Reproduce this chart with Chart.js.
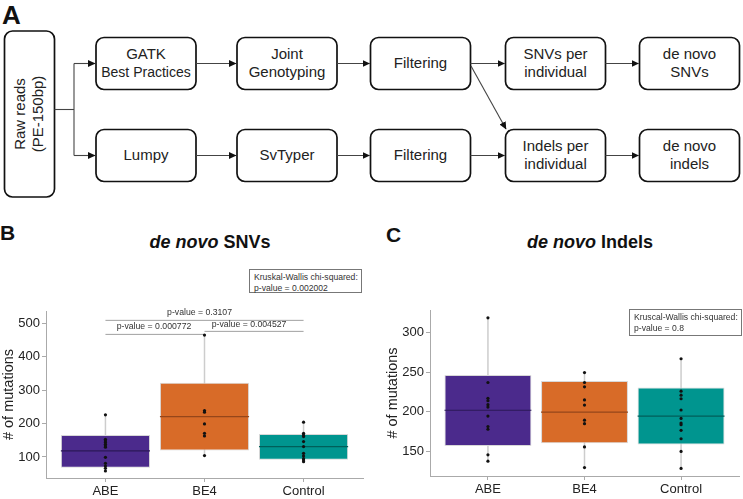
<!DOCTYPE html>
<html>
<head>
<meta charset="utf-8">
<script src="https://cdn.jsdelivr.net/npm/chart.js@4.4.1/dist/chart.umd.min.js"></script>
<style>
  body { margin: 0; background: #fff; }
  #fig { position: relative; width: 743px; height: 499px; overflow: hidden; font-family: "Liberation Sans", Arial, sans-serif; color: #222; }
  .abs { position: absolute; }
  .panel { font-weight: bold; font-size: 21px; line-height: 1; color: #111; }
  .title { font-weight: bold; font-size: 18px; line-height: 1; white-space: nowrap; transform: translateX(-50%); color: #111; }
  .kw { border: 1px solid #777; font-size: 8.6px; line-height: 10.5px; padding: 2px 4px; box-sizing: border-box; color: #333; white-space: nowrap; }
  canvas { position: absolute; }
</style>
</head>
<body>
<div id="fig">
  <svg class="abs" style="left:0;top:0" width="743" height="205" font-family="Liberation Sans, Arial, sans-serif">
    <defs>
      <marker id="ah" markerWidth="8" markerHeight="8" refX="7" refY="4" orient="auto" markerUnits="userSpaceOnUse">
        <path d="M0,0.5 L7.5,4 L0,7.5 z" fill="#111"/>
      </marker>
    </defs>
    <text x="2" y="24" font-size="26" font-weight="bold" fill="#111">A</text>
    <g fill="none" stroke="#111" stroke-width="1.7">
      <rect x="4.5" y="31" width="50" height="166" rx="8"/>
      <rect x="96" y="37.5" width="100" height="52" rx="8"/>
      <rect x="237" y="37.5" width="100" height="52" rx="8"/>
      <rect x="370.5" y="37.5" width="100" height="52" rx="8"/>
      <rect x="505.5" y="37.5" width="100" height="52" rx="8"/>
      <rect x="639.5" y="37.5" width="100" height="52" rx="8"/>
      <rect x="96" y="129.5" width="100" height="52" rx="8"/>
      <rect x="237" y="129.5" width="100" height="52" rx="8"/>
      <rect x="370.5" y="129.5" width="100" height="52" rx="8"/>
      <rect x="505.5" y="129.5" width="100" height="52" rx="8"/>
      <rect x="639.5" y="129.5" width="100" height="52" rx="8"/>
    </g>
    <g stroke="#444" stroke-width="1.1" fill="none">
      <line x1="54.5" y1="109.5" x2="74" y2="109.5"/>
      <line x1="74" y1="63.5" x2="74" y2="155.5"/>
      <line x1="74" y1="63.5" x2="95" y2="63.5" marker-end="url(#ah)"/>
      <line x1="74" y1="155.5" x2="95" y2="155.5" marker-end="url(#ah)"/>
      <line x1="196" y1="63.5" x2="236" y2="63.5" marker-end="url(#ah)"/>
      <line x1="337" y1="63.5" x2="369.5" y2="63.5" marker-end="url(#ah)"/>
      <line x1="470.5" y1="63.5" x2="504.5" y2="63.5" marker-end="url(#ah)"/>
      <line x1="605.5" y1="63.5" x2="638.5" y2="63.5" marker-end="url(#ah)"/>
      <line x1="196" y1="155.5" x2="236" y2="155.5" marker-end="url(#ah)"/>
      <line x1="337" y1="155.5" x2="369.5" y2="155.5" marker-end="url(#ah)"/>
      <line x1="470.5" y1="155.5" x2="504.5" y2="155.5" marker-end="url(#ah)"/>
      <line x1="605.5" y1="155.5" x2="638.5" y2="155.5" marker-end="url(#ah)"/>
      <line x1="471" y1="66" x2="506" y2="129" marker-end="url(#ah)"/>
    </g>
    <g font-size="15" fill="#222" text-anchor="middle" dominant-baseline="middle">
      <text transform="translate(21,114) rotate(-90)">Raw reads</text>
      <text transform="translate(39.5,114) rotate(-90)">(PE-150bp)</text>
      <text x="146" y="55">GATK</text>
      <text x="146" y="73.5" font-size="14">Best Practices</text>
      <text x="287" y="55">Joint</text>
      <text x="287" y="73.5">Genotyping</text>
      <text x="420.5" y="64">Filtering</text>
      <text x="555.5" y="55">SNVs per</text>
      <text x="555.5" y="73.5">individual</text>
      <text x="689.5" y="55">de novo</text>
      <text x="689.5" y="73.5">SNVs</text>
      <text x="146" y="156">Lumpy</text>
      <text x="287" y="156">SvTyper</text>
      <text x="420.5" y="156">Filtering</text>
      <text x="555.5" y="147">Indels per</text>
      <text x="555.5" y="165">individual</text>
      <text x="689.5" y="147">de novo</text>
      <text x="689.5" y="165">indels</text>
    </g>
  </svg>

  <div class="abs panel" style="left:0;top:222px">B</div>
  <div class="abs title" style="left:210px;top:233px"><i>de novo</i> SNVs</div>
  <div class="abs kw" style="left:249px;top:269px;width:113px;height:24px">Kruskal-Wallis chi-squared:<br>p-value = 0.002002</div>
  <canvas id="snv" width="380" height="209" style="left:0;top:290px"></canvas>

  <div class="abs panel" style="left:386px;top:224px">C</div>
  <div class="abs title" style="left:590px;top:233px"><i>de novo</i> Indels</div>
  <canvas id="indel" width="373" height="209" style="left:370px;top:290px"></canvas>
  <div class="abs kw" style="left:629px;top:309px;width:113px;height:27px">Kruscal-Wallis chi-squared:<br>p-value = 0.8</div>
</div>

<script>
// 그룹
const groups = ['ABE', 'BE4', 'Control'];

// de novo SNVs 박스 통계
const snvQ1 = [68, 119, 92];
const snvMedian = [118, 221, 131];
const snvQ3 = [166, 322, 169];
const snvLow = [57, 104, 86];
const snvHigh = [226, 465, 204];
const snvAbe = [226, 153, 148, 143, 138, 133, 129, 99, 81, 73, 66, 58];
const snvBe4 = [465, 239, 234, 199, 171, 163, 104];
const snvControl = [204, 171, 166, 161, 146, 131, 111, 103, 95, 91, 86];
const snvTicks = [100, 200, 300, 400, 500];

// 쌍별 비교 (구간 시작, 끝, 높이, 라벨)
const pairFrom = [1, 1, 2];
const pairTo = [3, 2, 3];
const pairY = [509, 467, 476];
const pairLabelX = [1.95, 1.49, 2.45];
const pairLabelY = [531, 491, 496];
const pairLabels = ['p-value = 0.3107', 'p-value = 0.000772', 'p-value = 0.004527'];

// de novo Indels 박스 통계
const indelQ1 = [157, 160.4, 158.9];
const indelMedian = [202, 199.6, 194.6];
const indelQ3 = [246.6, 239, 230.6];
const indelLow = [137.7, 129.6, 128.5];
const indelHigh = [318.6, 249.5, 267];
const indelAbe = [318.6, 237, 217, 214, 209, 206, 194.6, 181.5, 178, 145.7, 137.7];
const indelBe4 = [249.5, 237, 231.5, 215, 208.5, 189.5, 185, 155.7, 129.6];
const indelControl = [267, 226, 221, 216.5, 202.3, 191.7, 185.9, 183.8, 176.6, 166, 150, 128.5];
const indelTicks = [150, 200, 250, 300];

const fills = ['#4b2a8c', '#d86b28', '#00958f'];
const medianColors = ['#2b1857', '#95461a', '#005f5a'];
const font = 'Liberation Sans, Arial, sans-serif';

function makeBoxChart(id, s) {
    const datasets = [];

    // 수염
    groups.forEach((g, i) => {
        datasets.push({
            type: 'line',
            data: [{ x: i + 1, y: s.low[i] }, { x: i + 1, y: s.high[i] }],
            borderColor: '#cdcdcd', borderWidth: 1.5, pointRadius: 0, order: 6
        });
    });

    // 박스
    datasets.push({
        type: 'bar',
        data: groups.map((g, i) => ({ x: i + 1, y: [s.q1[i], s.q3[i]] })),
        backgroundColor: fills,
        borderColor: '#d8d8d8', borderWidth: 1, borderSkipped: false,
        barPercentage: 0.9, categoryPercentage: 1, order: 5
    });

    // 중앙값
    groups.forEach((g, i) => {
        datasets.push({
            type: 'line',
            data: [{ x: i + 0.55, y: s.median[i] }, { x: i + 1.45, y: s.median[i] }],
            borderColor: medianColors[i], borderWidth: 1.2, pointRadius: 0, order: 4
        });
    });

    // 비교 구간 선
    (s.pairs || []).forEach(p => {
        datasets.push({
            type: 'line',
            data: [{ x: p.from, y: p.y }, { x: p.to, y: p.y }],
            borderColor: '#a0a0a0', borderWidth: 1, pointRadius: 0, order: 3, clip: false
        });
    });

    // 개별 점
    datasets.push({
        type: 'scatter',
        data: s.points.flatMap((arr, i) => arr.map(v => ({ x: i + 1, y: v }))),
        pointRadius: 1.6, backgroundColor: '#111', borderWidth: 0, order: 1
    });

    const pairText = {
        id: 'pairText',
        afterDatasetsDraw(chart) {
            if (!s.pairs) return;
            const ctx = chart.ctx;
            ctx.save();
            ctx.font = '8.7px ' + font;
            ctx.fillStyle = '#333';
            ctx.textAlign = 'center';
            ctx.textBaseline = 'middle';
            s.pairs.forEach(p => {
                ctx.fillText(p.label, chart.scales.x.getPixelForValue(p.lx), chart.scales.y.getPixelForValue(p.ly));
            });
            ctx.restore();
        }
    };

    return new Chart(document.getElementById(id), {
        type: 'bar',
        data: { datasets: datasets },
        plugins: [pairText],
        options: {
            responsive: false,
            animation: false,
            layout: { padding: { top: s.padTop, right: s.padRight, left: 0, bottom: 0 } },
            plugins: { legend: { display: false }, tooltip: { enabled: false } },
            scales: {
                x: {
                    type: 'linear', min: 0.4, max: 3.6, offset: false,
                    afterBuildTicks: sc => { sc.ticks = groups.map((g, i) => ({ value: i + 1 })); },
                    afterFit: sc => { sc.height = s.xHeight; },
                    ticks: { autoSkip: false, padding: 2, color: '#222', font: { family: font, size: 13 },
                        callback: v => groups[Math.round(v) - 1] || '' },
                    grid: { drawOnChartArea: false, offset: false, tickLength: 4, color: '#aaa' },
                    border: { color: '#aaa' }
                },
                y: {
                    type: 'linear', min: s.min, max: s.max,
                    afterBuildTicks: sc => { sc.ticks = s.ticks.map(v => ({ value: v })); },
                    afterFit: sc => { sc.width = s.yWidth; },
                    ticks: { padding: 2, color: '#222', font: { family: font, size: 13 } },
                    grid: { drawOnChartArea: false, tickLength: 4, color: '#aaa' },
                    border: { color: '#aaa' },
                    title: { display: true, text: '# of mutations', color: '#222',
                        font: { family: font, size: 14.5 }, padding: { top: s.titlePad, bottom: 0 } }
                }
            }
        }
    });
}

makeBoxChart('snv', {
    q1: snvQ1, median: snvMedian, q3: snvQ3, low: snvLow, high: snvHigh,
    points: [snvAbe, snvBe4, snvControl], ticks: snvTicks,
    min: 37, max: 537,
    pairs: pairLabels.map((l, i) => ({ from: pairFrom[i], to: pairTo[i], y: pairY[i], lx: pairLabelX[i], ly: pairLabelY[i], label: l })),
    padTop: 21, padRight: 17, yWidth: 46, xHeight: 21, titlePad: 0
});

makeBoxChart('indel', {
    q1: indelQ1, median: indelMedian, q3: indelQ3, low: indelLow, high: indelHigh,
    points: [indelAbe, indelBe4, indelControl], ticks: indelTicks,
    min: 119, max: 328.5,
    padTop: 20, padRight: 3, yWidth: 60, xHeight: 23, titlePad: 14
});
</script>
</body>
</html>
